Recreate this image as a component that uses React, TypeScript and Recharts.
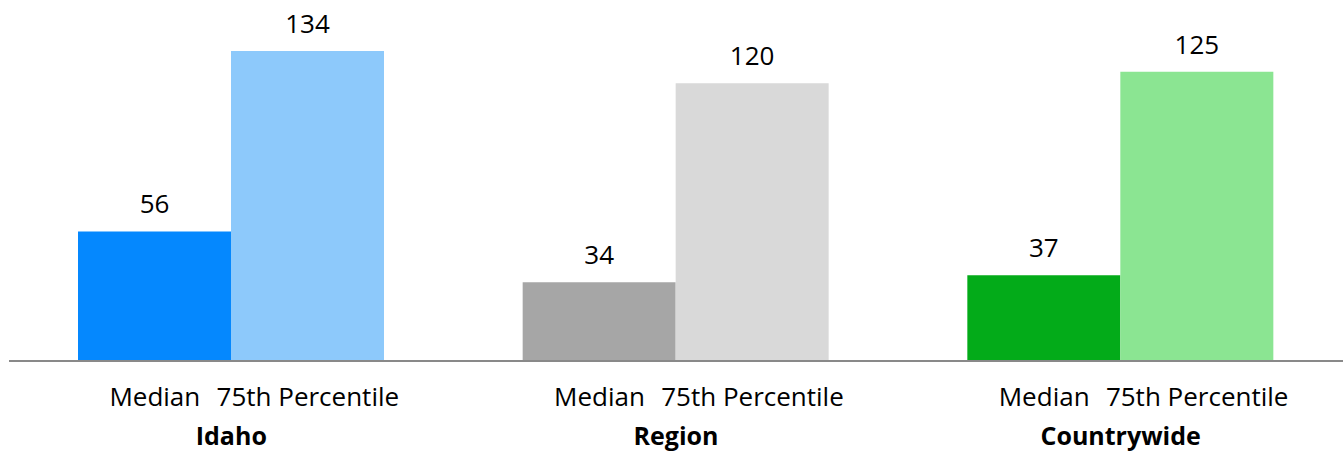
import { BarChart, Bar, XAxis, YAxis, Cell, LabelList } from 'recharts';

const groups = ['Idaho', 'Region', 'Countrywide'];
const medianValues = [56, 34, 37];
const p75Values = [134, 120, 125];
const medianColors = ['#0588FE', '#A6A6A6', '#03AB19'];
const p75Colors = ['#8DC9FB', '#D9D9D9', '#8BE592'];

const data = groups.map((g, i) => ({ group: g, median: medianValues[i], p75: p75Values[i] }));

const FONT = '"Open Sans", sans-serif';

const GroupTick = ({ x, y, payload }: any) => {
  const half = 76.5;
  return (
    <g>
      <text x={x - half} y={y + 45} textAnchor="middle" fontSize={26} fill="#000" fontFamily={FONT}>
        Median
      </text>
      <text x={x + half} y={y + 45} textAnchor="middle" fontSize={26} fill="#000" fontFamily={FONT}>
        75th Percentile
      </text>
      <text x={x} y={y + 84} textAnchor="middle" fontSize={25} fontWeight="bold" fill="#000" fontFamily={FONT}>
        {payload.value}
      </text>
    </g>
  );
};

export default function App() {
  // chart sits at the page's top-left corner, ignoring the body margin
  return (
    <div style={{ position: 'absolute', left: 0, top: 0, width: 1343, height: 452, fontFamily: FONT }}>
      <BarChart
        width={1343}
        height={452}
        data={data}
        margin={{ top: 37, right: 0, left: 9, bottom: 1 }}
        barCategoryGap={69}
        barGap={0}
      >
        <XAxis
          dataKey="group"
          height={90}
          axisLine={{ stroke: '#898989', strokeWidth: 2 }}
          tickLine={false}
          tickSize={0}
          tickMargin={0}
          interval={0}
          tick={<GroupTick />}
        />
        <YAxis hide domain={[0, 140]} />
        <Bar dataKey="median" isAnimationActive={false}>
          {data.map((_, i) => (
            <Cell key={i} fill={medianColors[i]} />
          ))}
          <LabelList dataKey="median" position="top" offset={18} fill="#000" fontSize={26} fontFamily={FONT} />
        </Bar>
        <Bar dataKey="p75" isAnimationActive={false}>
          {data.map((_, i) => (
            <Cell key={i} fill={p75Colors[i]} />
          ))}
          <LabelList dataKey="p75" position="top" offset={18} fill="#000" fontSize={26} fontFamily={FONT} />
        </Bar>
      </BarChart>
    </div>
  );
}
